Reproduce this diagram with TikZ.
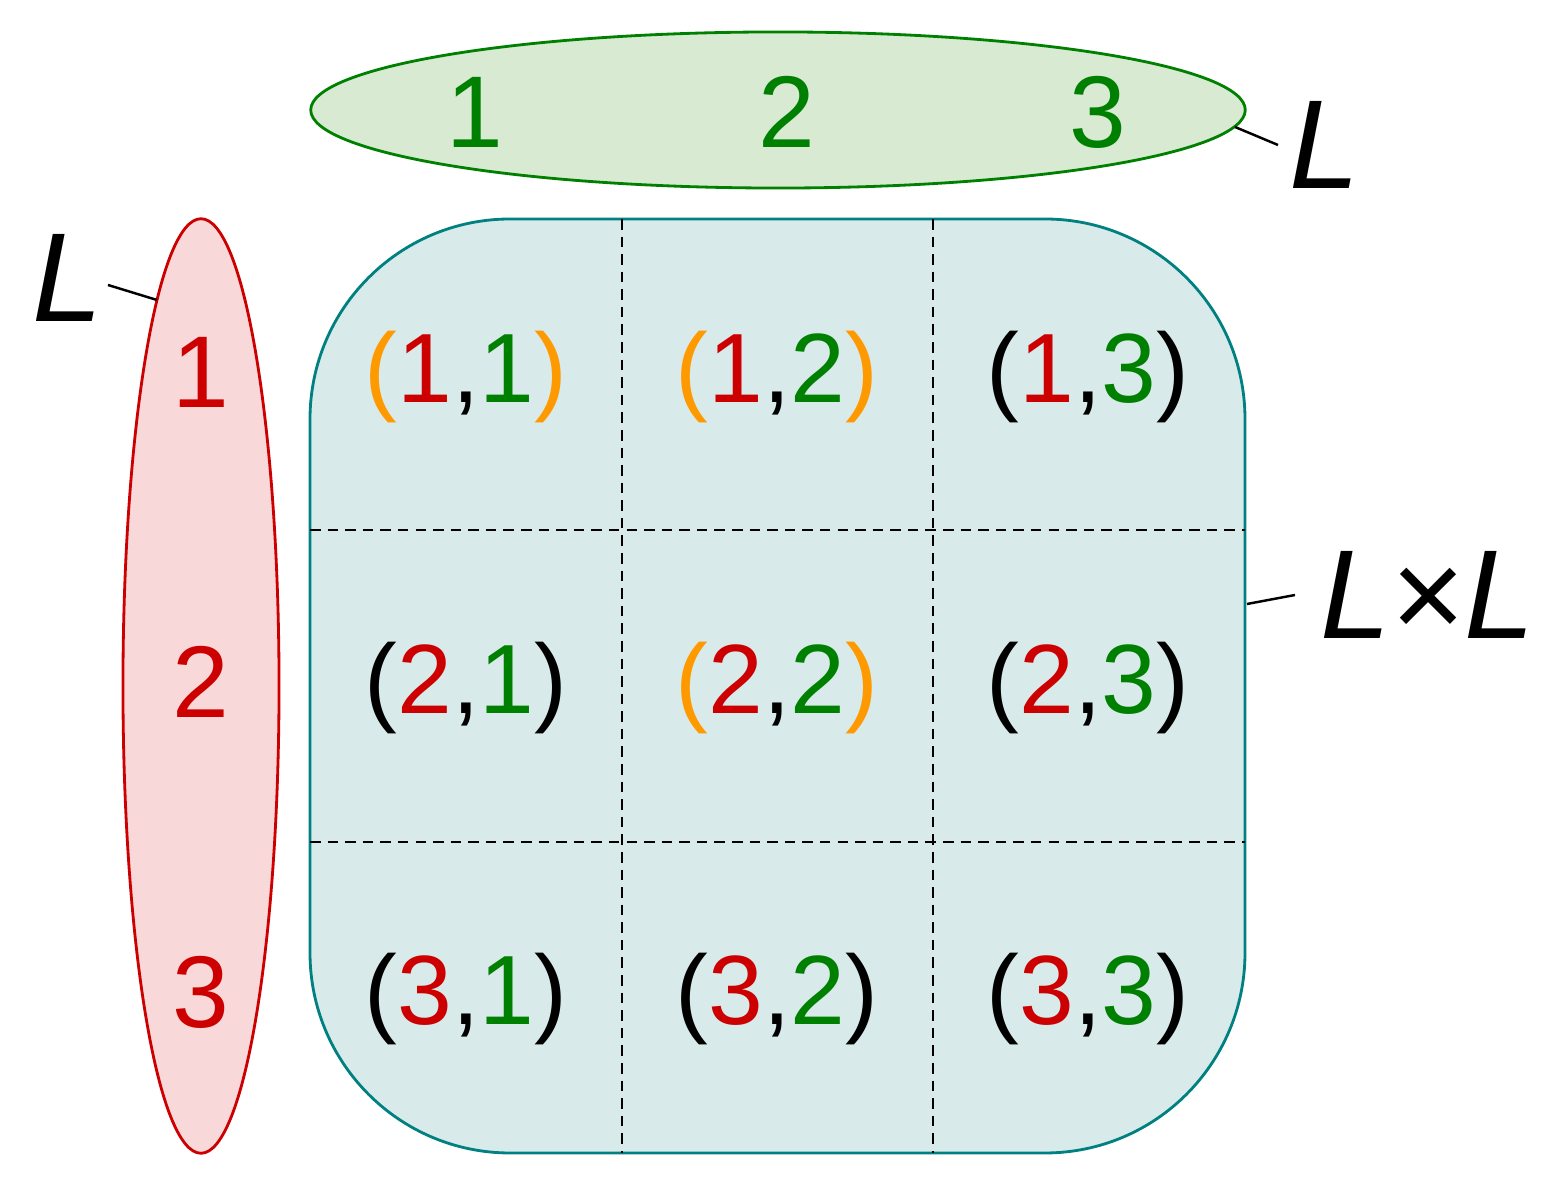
\documentclass[tikz,border=0pt]{standalone}
\usepackage{fontspec}
\setmainfont{Liberation Sans}
\usetikzlibrary{shapes.geometric}
\definecolor{cred}{RGB}{204,0,0}
\definecolor{cgreen}{RGB}{0,128,0}
\definecolor{corange}{RGB}{255,153,0}
\definecolor{cteal}{RGB}{0,128,128}
\definecolor{fgreen}{RGB}{217,234,211}
\definecolor{fred}{RGB}{248,216,216}
\definecolor{fteal}{RGB}{216,234,233}
\tikzset{
  num/.style={font=\fontsize{29}{34}\selectfont},
  pair/.style={font=\fontsize{28}{34}\selectfont},
  setname/.style={font=\fontsize{36}{42}\selectfont\itshape},
  grid/.style={densely dashed, line width=0.6pt},
  tick/.style={line width=0.7pt}
}
\newcommand{\pr}[3]{\textcolor{#1}{(}\textcolor{cred}{#2},\textcolor{cgreen}{#3}\textcolor{#1}{)}}
\begin{document}
\begin{tikzpicture}[x=0.01cm,y=-0.01cm]
\useasboundingbox (0,0) rectangle (1560,1186);

% the two sets
\node[ellipse, draw=cgreen, fill=fgreen, line width=0.8pt, minimum width=9.34cm, minimum height=1.56cm] (top) at (778,110) {};
\node[ellipse, draw=cred, fill=fred, line width=0.8pt, minimum width=1.56cm, minimum height=9.34cm] (left) at (201,686) {};

\node[num, text=cgreen] (t1) at (475,112) {1};
\node[num, text=cgreen] (t2) at (787,112) {2};
\node[num, text=cgreen] (t3) at (1098,112) {3};
\node[num, text=cred] (l1) at (201,372) {1};
\node[num, text=cred] (l2) at (201,682) {2};
\node[num, text=cred] (l3) at (201,992) {3};

% product
\draw[cteal, fill=fteal, line width=0.8pt, rounded corners=2cm] (310,219) rectangle (1245,1153);
\coordinate (prodE) at (1247,604);
\foreach \x in {622,933} \draw[grid] (\x,219) -- (\x,1153);
\foreach \y in {530,842} \draw[grid] (310,\y) -- (1245,\y);

\node[pair] (p11) at (466,377) {\pr{corange}{1}{1}};
\node[pair] (p12) at (777,377) {\pr{corange}{1}{2}};
\node[pair] (p13) at (1088,377) {\pr{black}{1}{3}};
\node[pair] (p21) at (466,688) {\pr{black}{2}{1}};
\node[pair] (p22) at (777,688) {\pr{corange}{2}{2}};
\node[pair] (p23) at (1088,688) {\pr{black}{2}{3}};
\node[pair] (p31) at (466,999) {\pr{black}{3}{1}};
\node[pair] (p32) at (777,999) {\pr{black}{3}{2}};
\node[pair] (p33) at (1088,999) {\pr{black}{3}{3}};

% labels
\node[setname] (Ltop) at (1325,145) {L};
\node[setname] (Lleft) at (68,278) {L};
\node[setname] (LxL) at (1428,595) {L\upshape×\itshape L};
\coordinate (topE) at (1235,127);
\coordinate (leftN) at (157,300);
\draw[tick] (topE) -- (1278,145);
\draw[tick] (leftN) -- (108,285);
\draw[tick] (prodE) -- (1295,595);
\end{tikzpicture}
\end{document}
